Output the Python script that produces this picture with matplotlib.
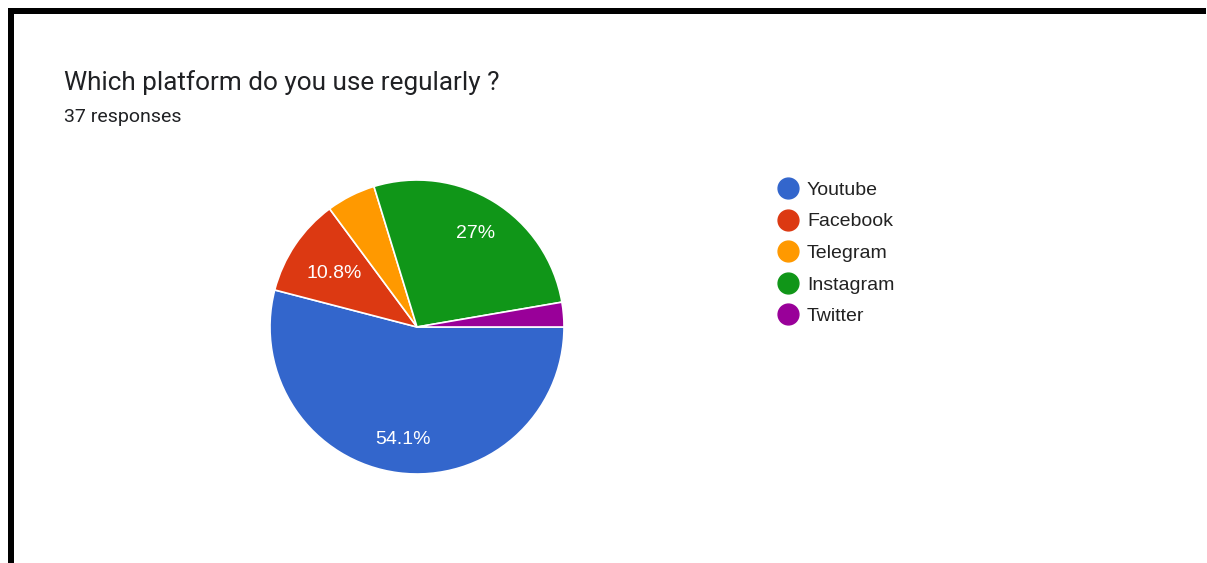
import matplotlib
matplotlib.use("Agg")
import numpy as np
import matplotlib.pyplot as plt
from matplotlib.lines import Line2D
from matplotlib.patches import Rectangle

# survey answers (37 responses)
platforms = ["Youtube", "Facebook", "Telegram", "Instagram", "Twitter"]
counts = [20, 4, 2, 10, 1]
colors = ["#3366cc", "#dc3912", "#ff9900", "#109618", "#990099"]
title = "Which platform do you use regularly ?"
subtitle = "37 responses"

plt.rcParams["font.family"] = ["Roboto", "DejaVu Sans"]
chart_font = ["Liberation Sans", "DejaVu Sans"]

W, H = 1207, 563
fig = plt.figure(figsize=(W / 100, H / 100), dpi=100)
fig.patch.set_facecolor("white")

# pie axes placed by pixel position (centre 417,327 radius ~147)
cx, cy, r = 417, 327, 147
ax = fig.add_axes([(cx - r) / W, 1 - (cy + r) / H, 2 * r / W, 2 * r / H])
total = sum(counts)

wedges, _ = ax.pie(counts, colors=colors, startangle=0, counterclock=False,
                   radius=1, wedgeprops=dict(edgecolor="white", linewidth=1.2))

# percentage labels, only on slices big enough (like google charts)
for w, c in zip(wedges, counts):
    p = c / total * 100
    if p < 8:
        continue
    ang = np.deg2rad((w.theta1 + w.theta2) / 2)
    d = 0.76 if p > 20 else 0.68
    ax.text(d * np.cos(ang), d * np.sin(ang), "{:g}%".format(round(p, 1)),
            ha="center", va="center_baseline", color="white", fontsize=14,
            family=chart_font)

ax.set_xlim(-1, 1)
ax.set_ylim(-1, 1)
ax.set_aspect("equal")
ax.axis("off")

# titles
fig.text(64 / W, 1 - 90 / H, title, fontsize=18.8, color="#202124", va="baseline")
fig.text(64 / W, 1 - 122 / H, subtitle, fontsize=14, color="#202124", va="baseline")

# legend, drawn row by row
for i, (name, c) in enumerate(zip(platforms, colors)):
    yc = 188 + i * 31.5
    fig.add_artist(Line2D([788 / W], [1 - yc / H], marker="o", markersize=15,
                          markerfacecolor=c, markeredgecolor=c, linestyle="",
                          transform=fig.transFigure))
    fig.text(807 / W, 1 - (yc + 7) / H, name, fontsize=14, color="#222222",
             va="baseline", family=chart_font)

# black frame edges (top and left)
fig.add_artist(Rectangle((8 / W, 1 - 14 / H), 1198 / W, 6 / H,
                         transform=fig.transFigure, color="black", lw=0))
fig.add_artist(Rectangle((8 / W, 0), 6 / W, 1 - 8 / H,
                         transform=fig.transFigure, color="black", lw=0))

fig.savefig("out.png", dpi=100, facecolor="white")
